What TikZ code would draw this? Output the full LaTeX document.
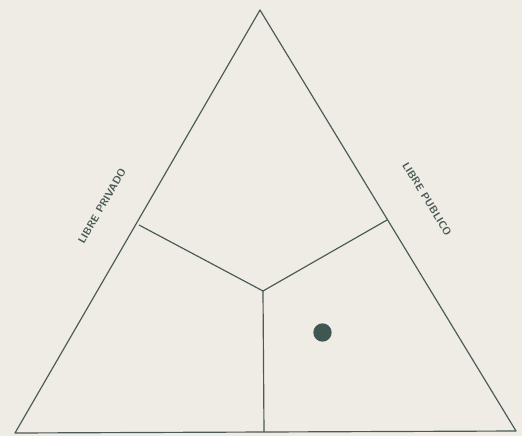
\documentclass[tikz,border=0pt]{standalone}
\usepackage{xcolor}
\usepackage{tikz}
\usetikzlibrary{positioning, calc}

\definecolor{paper}{HTML}{EFECE6}
\definecolor{ink}{HTML}{4A5A56}
\definecolor{dotink}{HTML}{3E5752}

\begin{document}
\begin{tikzpicture}[
    x=0.03cm, y=-0.03cm,
    edge/.style={draw=ink, line width=1pt, line join=round},
    lab/.style={font=\sffamily\bfseries\fontsize{9}{10}\selectfont, text=ink, inner sep=0pt},
    spot/.style={circle, fill=dotink, minimum size=0.55cm, inner sep=0pt}
  ]
  \fill[paper] (0,0) rectangle (522,436);
  \useasboundingbox (0,0) rectangle (522,436);
  % outer triangle
  \coordinate (top) at (260,10);
  \coordinate (bl) at (15,433);
  \coordinate (br) at (516,431);
  % inner split
  \coordinate (c) at (263,291);
  \coordinate (ml) at (139,225);
  \coordinate (mr) at (387,220);
  \coordinate (mb) at (264,432);
  \draw[edge] (top) -- (br) -- (bl) -- cycle;
  \draw[edge] (ml) -- (c) -- (mr);
  \draw[edge] (c) -- (mb);
  % labels
  \node[lab, rotate=60] (privado) at (102,206) {LIBRE PRIVADO};
  \node[lab, rotate=-58.5] (publico) at (427,199) {LIBRE PUBLICO};
  \node[spot] (dot) at (322.5,332.5) {};
\end{tikzpicture}
\end{document}
